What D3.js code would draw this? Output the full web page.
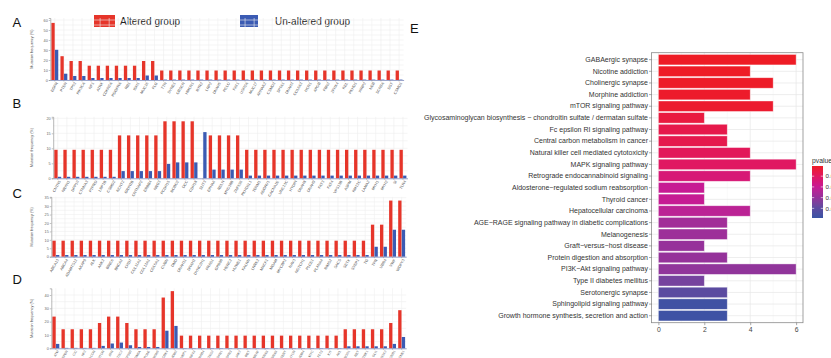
<!DOCTYPE html>
<html>
<head>
<meta charset="utf-8">
<script src="https://cdn.jsdelivr.net/npm/d3@7"></script>
<style>
  html, body { margin: 0; padding: 0; background: #fff; }
  svg { display: block; font-family: "Liberation Sans", Arial, sans-serif; }
</style>
</head>
<body>
<div id="chart"></div>
<script>
// ---- data: panels A-D (mutation frequency, %) ----
const genesA = ["EGFR","PTEN","TP53","PIK3CA","NF1","ATRX","CDKN2A","PDGFRA","RB1","IDH1","MUC16","FLG","TTN","SYNE1","OBSCN","HMCN1","RYR2","LRP2","DNAH5","PCLO","FAT1","USH2A","MUC17","AHNAK2","CSMD3","SPTA1","DNAH3","COL6A3","HCN1","APOB","FBN2","ZFHX4","KEL","PKHD1","XIRP2","NEB","SCN9A","DST","CSMD1"];
const alteredA = [57.1,23.8,19.0,19.0,14.3,14.3,14.3,14.3,14.3,14.3,19.0,19.0,9.5,9.5,9.5,9.5,9.5,9.5,9.5,9.5,9.5,9.5,9.5,9.5,9.5,9.5,9.5,9.5,9.5,9.5,9.5,9.5,9.5,9.5,9.5,9.5,9.5,9.5,9.5];
const unalteredA = [30.2,6.3,4.0,4.0,2.0,2.0,2.0,2.0,2.0,2.0,4.5,4.5,0.4,0.4,0.4,0.4,0.4,0.4,0.4,0.4,0.4,0.4,0.4,0.4,0.4,0.4,0.4,0.4,0.4,0.4,0.4,0.4,0.4,0.4,0.4,0.4,0.4,0.4,0.4];

const genesB = ["CNTN5","NRXN1","DPP10","CTNNA3","PTPRD","LRP1B","CSMD2","KCNT2","GRIN2B","CNTNAP2","ERBB4","NRG3","PCDH15","ROBO2","DCC","CDH18","SLIT3","EPHA6","RELN","MYO18B","ZNF536","PKHD1L1","TENM1","ADGRV1","CACNA1E","UNC13C","HYDIN","DNAH8","DNAH9","FAT3","FAT4","VPS13B","ASPM","KMT2C","LAMA2","MYH1","MYH2","SI","TLR4"];
const alteredB = [9.5,9.5,9.5,9.5,9.5,9.5,9.5,14.3,14.3,14.3,14.3,14.3,19.0,19.0,19.0,19.0,0,14.3,14.3,14.3,14.3,9.5,9.5,9.5,9.5,9.5,9.5,9.5,9.5,9.5,9.5,9.5,9.5,9.5,9.5,9.5,9.5,9.5,9.5];
const unalteredB = [0.5,0.5,0.5,0.5,0.5,0.5,0.5,2.4,2.4,2.4,2.4,2.4,4.8,5.3,5.3,5.3,15.4,2.9,2.9,2.9,2.9,0.9,0.9,0.9,0.9,0.9,0.9,0.9,0.9,0.9,0.9,0.9,0.9,0.9,0.9,0.9,0.9,0.9,0.9];

const genesC = ["ABCA13","ABCA4","ADAMTS12","AKAP9","ALK","ANK2","BIRC6","BRCA2","CHD7","COL11A1","COL12A1","COL5A1","CUBN","DMD","DNAH11","DNAH2","DYNC2H1","FRAS1","GPR98","HERC2","HUWE1","KALRN","LRRK2","MACF1","MGAM","MYCBP2","NAV3","NOTCH1","PLCE1","PLXNA4","RIMS2","SACS","SETX","SVEP1","TG","TPR","UBR4","VWF","WDFY3"];
const alteredC = [9.5,9.5,9.5,9.5,9.5,9.5,9.5,9.5,9.5,9.5,9.5,9.5,9.5,9.5,9.5,9.5,9.5,9.5,9.5,9.5,9.5,9.5,9.5,9.5,9.5,9.5,9.5,9.5,9.5,9.5,9.5,9.5,9.5,9.5,9.5,19.0,19.0,33.3,33.3];
const unalteredC = [1.0,1.0,1.0,1.0,1.0,1.0,1.0,1.0,1.0,1.0,1.0,1.0,1.0,1.0,1.0,1.0,1.0,1.0,1.0,1.0,1.0,1.0,1.0,1.0,1.0,1.0,1.0,1.0,1.0,1.0,1.0,1.0,1.0,1.0,1.0,5.9,5.9,16.0,16.0];

const genesD = ["ATM","SPEN","CIC","NF2","BCOR","MTOR","ATR","TSC2","EP300","KDM6A","POLE","MSH6","CDK4","MDM2","FUBP1","RNF43","SMAD4","STAG2","FGFR1","FGFR3","JAK2","MET","BRAF","KRAS","NRAS","TERT","MYCN","MDM4","MYC","FLT3","KIT","AXL","ROS1","RET","NTRK1","GLI1","SOX2","CCND1","CCNE1"];
const alteredD = [23.8,14.3,14.3,14.3,14.3,19.0,23.8,23.8,19.0,14.3,14.3,14.3,38.1,42.9,9.5,9.5,9.5,9.5,9.5,9.5,9.5,9.5,9.5,9.5,9.5,9.5,9.5,9.5,9.5,9.5,9.5,9.5,14.3,14.3,14.3,14.3,14.3,19.0,28.6];
const unalteredD = [3.3,0.3,0.3,0.3,0.3,1.8,3.6,4.3,2.3,1.0,1.0,1.0,13.2,16.8,0.2,0.2,0.2,0.2,0.2,0.2,0.2,0.2,0.2,0.2,0.2,0.2,0.2,0.2,0.2,0.2,0.2,0.2,1.5,1.5,1.5,1.5,1.5,3.3,8.5];

const ticksA = [0,10,20,30,40,50,60];
const ticksB = [0,5,10,15,20];
const ticksC = [0,5,10,15,20,25,30,35];
const ticksD = [0,10,20,30,40];

// ---- data: panel E (KEGG enrichment) ----
const pathways = ["GABAergic synapse","Nicotine addiction","Cholinergic synapse","Morphine addiction","mTOR signaling pathway","Glycosaminoglycan biosynthesis \u2212 chondroitin sulfate / dermatan sulfate","Fc epsilon RI signaling pathway","Central carbon metabolism in cancer","Natural killer cell mediated cytotoxicity","MAPK signaling pathway","Retrograde endocannabinoid signaling","Aldosterone\u2212regulated sodium reabsorption","Thyroid cancer","Hepatocellular carcinoma","AGE\u2212RAGE signaling pathway in diabetic complications","Melanogenesis","Graft\u2212versus\u2212host disease","Protein digestion and absorption","PI3K\u2212Akt signaling pathway","Type II diabetes mellitus","Serotonergic synapse","Sphingolipid signaling pathway","Growth hormone synthesis, secretion and action"];
const geneCounts = [6,4,5,4,5,2,3,3,4,6,4,2,2,4,3,3,2,3,6,2,3,3,3];
const pvalues = [0.0006,0.0007,0.0010,0.0015,0.0020,0.0045,0.0064,0.0068,0.0088,0.0102,0.0141,0.0199,0.0201,0.0223,0.0272,0.0282,0.0296,0.0298,0.0306,0.0355,0.0403,0.0476,0.0480];
const pvalueTicks = [0.01,0.02,0.03,0.04];

const RED = "#e6352a", BLUE = "#3b5bb3";

const svg = d3.select("#chart").append("svg")
  .attr("width", 831)
  .attr("height", 358);

// top legend
const legend = svg.append("g");
legend.append("rect").attr("x", 94).attr("y", 15).attr("width", 21).attr("height", 12).attr("fill", RED);
legend.append("text").attr("x", 120).attr("y", 25).attr("font-size", 10).attr("fill", "#222").text("Altered group");
legend.append("rect").attr("x", 240).attr("y", 15).attr("width", 18).attr("height", 12).attr("fill", BLUE);
legend.append("text").attr("x", 275).attr("y", 25).attr("font-size", 10).attr("fill", "#222").text("Un-altered group");

function drawPanel(cfg) {
  const g = svg.append("g");
  const data = cfg.genes.map((d, i) => ({ gene: d, altered: cfg.altered[i], unaltered: cfg.unaltered[i] }));

  const x = d3.scaleBand().domain(cfg.genes).range([cfg.x0, cfg.x1]).paddingInner(0.24).paddingOuter(0.12);
  const xs = d3.scaleBand().domain(["altered", "unaltered"]).range([0, x.bandwidth()]).paddingInner(0.08);
  const y = d3.scaleLinear().domain([0, cfg.yMax]).range([cfg.bottom, cfg.top]);

  // grid
  const minor = cfg.ticks.slice(0, -1).map((t, i) => (t + cfg.ticks[i + 1]) / 2);
  g.selectAll(".hg").data(cfg.ticks.concat(minor)).enter().append("line")
    .attr("x1", cfg.x0).attr("x2", cfg.x1)
    .attr("y1", d => y(d)).attr("y2", d => y(d))
    .attr("stroke", "#eeeeee").attr("stroke-width", 0.6);
  g.selectAll(".vg").data(cfg.genes).enter().append("line")
    .attr("x1", d => x(d) + x.bandwidth() / 2).attr("x2", d => x(d) + x.bandwidth() / 2)
    .attr("y1", y(cfg.yMax)).attr("y2", cfg.bottom)
    .attr("stroke", "#eeeeee").attr("stroke-width", 0.6);

  // bars
  const grp = g.selectAll(".grp").data(data).enter().append("g")
    .attr("transform", d => `translate(${x(d.gene)},0)`);
  grp.append("rect")
    .attr("x", xs("altered")).attr("width", xs.bandwidth())
    .attr("y", d => y(d.altered)).attr("height", d => cfg.bottom - y(d.altered))
    .attr("fill", RED);
  grp.append("rect")
    .attr("x", xs("unaltered")).attr("width", xs.bandwidth())
    .attr("y", d => y(d.unaltered)).attr("height", d => cfg.bottom - y(d.unaltered))
    .attr("fill", BLUE);

  // axes
  const ya = g.append("g").attr("transform", `translate(${cfg.x0},0)`)
    .call(d3.axisLeft(y).tickValues(cfg.ticks).tickSize(1.5).tickPadding(1));
  ya.select(".domain").attr("stroke", "#888").attr("stroke-width", 0.6);
  ya.selectAll(".tick line").attr("stroke", "#888").attr("stroke-width", 0.5);
  ya.selectAll("text").attr("font-size", 3.8).attr("fill", "#666");

  const xa = g.append("g").attr("transform", `translate(0,${cfg.bottom})`)
    .call(d3.axisBottom(x).tickSize(1.5).tickPadding(1).tickSizeOuter(0));
  xa.select(".domain").attr("stroke", "#7180b8").attr("stroke-width", 0.7);
  xa.selectAll(".tick line").attr("stroke", "#888").attr("stroke-width", 0.5);
  xa.selectAll("text")
    .attr("font-size", cfg.labelSize).attr("fill", "#555")
    .style("text-anchor", "end")
    .attr("dx", "-0.3em").attr("dy", "0.5em")
    .attr("transform", "rotate(-60)");

  g.append("text")
    .attr("transform", `translate(33,${(cfg.top + cfg.bottom) / 2}) rotate(-90)`)
    .attr("text-anchor", "middle").attr("font-size", 3.8).attr("fill", "#444")
    .text("Mutation frequency (%)");

  svg.append("text").attr("x", 12.5).attr("y", cfg.letterY)
    .attr("font-size", 13).attr("fill", "#111").text(cfg.letter);
}

drawPanel({ letter: "A", letterY: 27, genes: genesA, altered: alteredA, unaltered: unalteredA,
  ticks: ticksA, yMax: 62, top: 80 - 62, bottom: 80, x0: 50.3, x1: 403.6, labelSize: 3.8 });
drawPanel({ letter: "B", letterY: 108, genes: genesB, altered: alteredB, unaltered: unalteredB,
  ticks: ticksB, yMax: 20.5, top: 178.3 - 61.5, bottom: 178.3, x0: 53.2, x1: 407.5, labelSize: 3.8 });
drawPanel({ letter: "C", letterY: 198, genes: genesC, altered: alteredC, unaltered: unalteredC,
  ticks: ticksC, yMax: 35.5, top: 256.7 - 35.5 * 59 / 35, bottom: 256.7, x0: 51.3, x1: 406.2, labelSize: 3.8 });
drawPanel({ letter: "D", letterY: 284, genes: genesD, altered: alteredD, unaltered: unalteredD,
  ticks: ticksD, yMax: 45, top: 348.3 - 45 * 53.3 / 40, bottom: 348.3, x0: 51.3, x1: 406.2, labelSize: 3.3 });

// ---- panel E ----
svg.append("text").attr("x", 410).attr("y", 33).attr("font-size", 13).attr("fill", "#111").text("E");

const eLeft = 651.5, eRight = 803, eTop = 52.7, eBottom = 322.7;
const ex = d3.scaleLinear().domain([-0.3, 6.3]).range([eLeft, eRight]);
const ey = d3.scaleBand().domain(pathways).range([eTop, eBottom]).paddingInner(0.1).paddingOuter(0.15);
const pDomain = [0.0005, 0.049];
const colorStops = ["#ee1c24", "#e01862", "#c71a93", "#96319a", "#5e4aa0", "#3953a4"];
const color = d3.scaleLinear()
  .domain(d3.range(colorStops.length).map(i => pDomain[0] + (pDomain[1] - pDomain[0]) * i / (colorStops.length - 1)))
  .range(colorStops)
  .interpolate(d3.interpolateLab)
  .clamp(true);

const ge = svg.append("g");
// grid
ge.selectAll(".vminor").data([1, 3, 5]).enter().append("line")
  .attr("x1", d => ex(d)).attr("x2", d => ex(d)).attr("y1", eTop).attr("y2", eBottom)
  .attr("stroke", "#f2f2f2").attr("stroke-width", 0.5);
ge.selectAll(".vmajor").data([0, 2, 4, 6]).enter().append("line")
  .attr("x1", d => ex(d)).attr("x2", d => ex(d)).attr("y1", eTop).attr("y2", eBottom)
  .attr("stroke", "#e6e6e6").attr("stroke-width", 0.7);
ge.selectAll(".hgrid").data(pathways).enter().append("line")
  .attr("x1", eLeft).attr("x2", eRight)
  .attr("y1", d => ey(d) + ey.bandwidth() / 2).attr("y2", d => ey(d) + ey.bandwidth() / 2)
  .attr("stroke", "#e6e6e6").attr("stroke-width", 0.7);

// bars
ge.selectAll(".ebar").data(pathways).enter().append("rect")
  .attr("x", ex(0))
  .attr("y", d => ey(d))
  .attr("width", (d, i) => ex(geneCounts[i]) - ex(0))
  .attr("height", ey.bandwidth())
  .attr("fill", (d, i) => color(pvalues[i]))
  .attr("stroke", "#ffffff").attr("stroke-opacity", 0.55).attr("stroke-width", 0.7);

// frame
ge.append("rect").attr("x", eLeft).attr("y", eTop)
  .attr("width", eRight - eLeft).attr("height", eBottom - eTop)
  .attr("fill", "none").attr("stroke", "#8a8a8a").attr("stroke-width", 0.8);

// axes
const eya = ge.append("g").attr("transform", `translate(${eLeft},0)`)
  .call(d3.axisLeft(ey).tickSize(2.5).tickPadding(1).tickSizeOuter(0));
eya.select(".domain").remove();
eya.selectAll(".tick line").attr("stroke", "#555").attr("stroke-width", 0.5);
eya.selectAll("text").attr("font-size", 7).attr("fill", "#333");

const exa = ge.append("g").attr("transform", `translate(0,${eBottom})`)
  .call(d3.axisBottom(ex).tickValues([0, 2, 4, 6]).tickFormat(d3.format("d")).tickSize(2.5).tickPadding(1.5).tickSizeOuter(0));
exa.select(".domain").remove();
exa.selectAll(".tick line").attr("stroke", "#555").attr("stroke-width", 0.5);
exa.selectAll("text").attr("font-size", 6.8).attr("fill", "#444");

// colourbar legend
const barX = 812, barW = 11, barTop = 166, barBottom = 218;
const defs = svg.append("defs");
const grad = defs.append("linearGradient").attr("id", "pgrad")
  .attr("x1", 0).attr("x2", 0).attr("y1", 0).attr("y2", 1);
d3.range(0, 1.0001, 0.05).forEach(t => {
  grad.append("stop").attr("offset", t)
    .attr("stop-color", color(pDomain[0] + t * (pDomain[1] - pDomain[0])));
});
const py = d3.scaleLinear().domain(pDomain).range([barTop, barBottom]);
svg.append("text").attr("x", barX).attr("y", 163).attr("font-size", 6.8).attr("fill", "#333").text("pvalue");
svg.append("rect").attr("x", barX).attr("y", barTop).attr("width", barW).attr("height", barBottom - barTop)
  .attr("fill", "url(#pgrad)");
const lg = svg.append("g");
lg.selectAll(".tl").data(pvalueTicks).enter().append("line")
  .attr("x1", barX).attr("x2", barX + 2.2).attr("y1", d => py(d)).attr("y2", d => py(d))
  .attr("stroke", "#fff").attr("stroke-width", 0.6);
lg.selectAll(".tr").data(pvalueTicks).enter().append("line")
  .attr("x1", barX + barW - 2.2).attr("x2", barX + barW).attr("y1", d => py(d)).attr("y2", d => py(d))
  .attr("stroke", "#fff").attr("stroke-width", 0.6);
lg.selectAll(".tt").data(pvalueTicks).enter().append("text")
  .attr("x", barX + barW + 2.5).attr("y", d => py(d) + 2.2)
  .attr("font-size", 6.2).attr("fill", "#333")
  .text(d => d3.format(".2f")(d));
</script>
</body>
</html>
